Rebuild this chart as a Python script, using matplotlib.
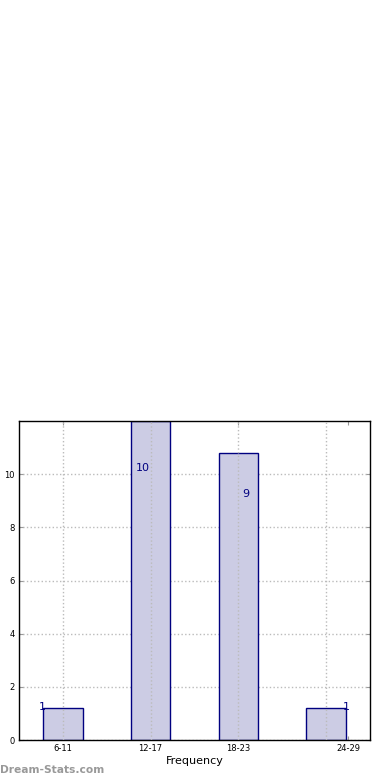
import numpy as np
import matplotlib
matplotlib.use("Agg")
import matplotlib.pyplot as plt

# ------------------------------------------------------------------ #
# data
categories = ['6-11', '12-17', '18-23', '24-29']
counts = [1, 10, 9, 1]
bar_heights = [1.2, 12.0, 10.8, 1.2]   # drawn heights (bars are taller than the counts)
label_dx = [-0.23, -0.09, 0.09, 0.23]  # where the count labels sit relative to the bar
tick_dx = [0, 0, 0, 0.25]              # last tick label is shifted right in the original
yticks = [0, 2, 4, 6, 8, 10]

# ------------------------------------------------------------------ #
fig = plt.figure(figsize=(3.9, 7.8), dpi=100)
ax = fig.add_axes([19 / 390, 40 / 780, 351 / 390, 319 / 780])

x = np.arange(len(categories))

# dotted grid drawn over the bars, like the original
for xi in x:
    ax.axvline(xi, color='#bbbbbb', linestyle=':', linewidth=1, zorder=3)
ax.grid(axis='y', color='#bbbbbb', linestyle=':', linewidth=1, zorder=3)

ax.bar(x, bar_heights, width=0.45, color='#cccce4', edgecolor='#000080',
       linewidth=1, zorder=2)

for xi, c, dx in zip(x, counts, label_dx):
    ax.text(xi + dx, c + 0.25, str(c), color='#000080', fontsize=8,
            ha='center', va='center', zorder=4)

ax.set_xlim(-0.5, 3.5)
ax.set_ylim(0, 12)
ax.set_yticks(yticks)
ax.set_xticks(x + np.array(tick_dx))
ax.set_xticklabels(categories)
ax.tick_params(axis='both', labelsize=6, direction='in', top=True, right=True,
               color='#999999', length=3, pad=3)

for s in ax.spines.values():
    s.set_color('black')
    s.set_linewidth(1)

ax.set_xlabel('Frequency', fontsize=8, labelpad=2)
# y label is mostly cut off at the left edge in the original
ax.set_ylabel('Student Marks', fontsize=8)
ax.yaxis.set_label_coords(-0.048, 0.5)

fig.text(0.0, 10 / 780, 'Dream-Stats.com', color='#999999', fontsize=7.7,
         fontweight='bold', ha='left', va='center')

plt.savefig('out.png', dpi=100)
plt.close()
